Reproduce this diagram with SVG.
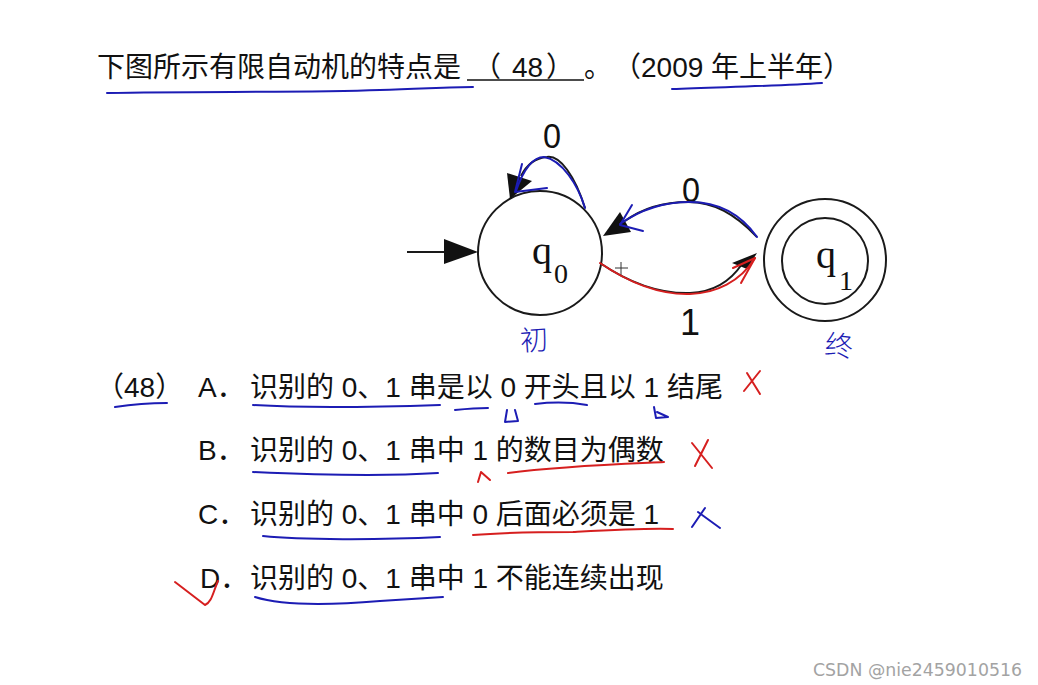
<svg xmlns="http://www.w3.org/2000/svg" width="1038" height="685" viewBox="0 0 1038 685">
<style>
.t{font-family:"Liberation Sans","Noto Sans CJK SC",sans-serif;font-size:28px;fill:#111}
.lbl{font-family:"Liberation Sans",sans-serif;font-size:36px;fill:#111;text-anchor:middle}
.q{font-family:"Liberation Serif",serif;fill:#111}
.st{fill:none;stroke:#1a1a1a;stroke-width:2}
.ah{fill:#111}
.pb{fill:none;stroke:#1c1cb4;stroke-width:2;stroke-linecap:round;stroke-linejoin:round}
.pr{fill:none;stroke:#d61f1f;stroke-width:2;stroke-linecap:round;stroke-linejoin:round}
.hw{font-family:"Noto Sans CJK SC",sans-serif;font-weight:300;fill:#1c1cb4}
</style>
<rect width="1038" height="685" fill="#fff"/>

<g id="title">
<text class="t" x="97" y="77">下图所示有限自动机的特点是</text>
<text class="t" y="77"><tspan x="473">（</tspan><tspan x="512">48</tspan><tspan x="546">）</tspan></text>
<line x1="467" y1="80" x2="584" y2="80" stroke="#111" stroke-width="1.5"/>
<text class="t" x="584" y="77">。</text>
<text class="t" x="613" y="77">（2009 年上半年）</text>
</g>

<g id="q0">
<circle class="st" cx="540" cy="253" r="62"/>
<text class="q" x="532" y="264" font-size="40">q</text>
<text class="q" x="554" y="283" font-size="28">0</text>
</g>
<g id="q1">
<circle class="st" cx="825" cy="260" r="61"/>
<circle class="st" cx="825" cy="261" r="43"/>
<text class="q" x="816" y="268" font-size="40">q</text>
<text class="q" x="839" y="290" font-size="28">1</text>
</g>

<g id="connectors">
<line class="st" x1="407" y1="252" x2="450" y2="252"/>
<polygon class="ah" points="478,252 444,239 444,264"/>
<path class="st" d="M585,208 C575,176 560,155 547,157 C535,158 526,166 521,176"/>
<polygon class="ah" points="510,199 507,173 532,181"/>
<path class="st" d="M757,237 C735,214 714,202 688,202 C660,202 640,210 625,221"/>
<polygon class="ah" points="603,236 620,212 631,232"/>
<path class="st" d="M600,263 C625,280 655,294 690,293 C713,292 730,282 742,264"/>
<polygon class="ah" points="757,253 732,263 747,269"/>
<text class="lbl" x="552" y="148" transform="translate(552 0) scale(0.9 1) translate(-552 0)">0</text>
<text class="lbl" x="691" y="202" transform="translate(691 0) scale(0.9 1) translate(-691 0)">0</text>
<text class="lbl" x="690" y="335">1</text>
</g>

<g id="cursor" stroke="#333" stroke-width="1">
<line x1="615" y1="268" x2="628" y2="268"/>
<line x1="621" y1="262" x2="621" y2="275"/>
</g>

<g id="options">
<text class="t" x="96" y="397">（48）</text>
<text class="t" x="198" y="397">A．</text>
<text class="t" x="250" y="397">识别的 0、1 串是以 0 开头且以 1 结尾</text>
<text class="t" x="198" y="460">B．</text>
<text class="t" x="250" y="460">识别的 0、1 串中 1 的数目为偶数</text>
<text class="t" x="198" y="524">C．</text>
<text class="t" x="250" y="524">识别的 0、1 串中 0 后面必须是 1</text>
<text class="t" x="200" y="588">D．</text>
<text class="t" x="250" y="588">识别的 0、1 串中 1 不能连续出现</text>
</g>

<g id="annotations">
<path class="pb" d="M585,208 C578,185 562,160 544,157 C533,157 524,168 516,191"/>
<path class="pb" d="M522,164 L515,192 L547,188"/>
<path class="pb" d="M757,237 C740,213 718,202 690,202 C662,202 640,210 620,224"/>
<path class="pb" d="M632,205 L620,225 L643,231"/>
<path class="pr" d="M600,263 C628,282 658,295 690,294 C716,293 740,282 755,258"/>
<path class="pr" d="M741,283 L755,258 L733,268"/>
<text class="hw" x="520" y="350" font-size="28" transform="rotate(-4 535 340)">初</text>
<text class="hw" x="825" y="356" font-size="28" transform="rotate(6 840 345)">终</text>

<path class="pb" d="M107,93 C200,91 300,93 380,90 C420,89 450,87 473,87"/>
<path class="pb" d="M672,89 C720,87 780,86 822,83"/>
<path class="pb" d="M115,407 C135,404 150,403 167,403"/>
<path class="pb" d="M253,405 C300,408 380,407 440,405"/>
<path class="pb" d="M455,410 C465,409 478,408 488,408"/>
<path class="pb" d="M535,404 C552,402 570,402 587,405"/>
<path class="pb" d="M507,410 L505,422 L518,421 L515,410"/>
<path class="pb" d="M654,407 L656,418 L668,417 L657,412"/>
<path class="pr" d="M747,373 L760,394 M760,371 L744,391"/>
<path class="pb" d="M253,472 C320,475 390,476 438,473"/>
<path class="pr" d="M478,482 L481,472 L490,480"/>
<path class="pr" d="M508,473 C560,466 620,464 664,462"/>
<path class="pr" d="M692,443 L712,468 M708,440 L695,466"/>
<path class="pb" d="M263,536 C300,540 380,540 440,537"/>
<path class="pr" d="M473,535 C510,532 540,532 573,532 C610,530 645,528 673,529"/>
<path class="pb" d="M705,508 L692,527 M698,512 L720,528"/>
<path class="pb" d="M255,597 C280,605 320,606 380,601 C410,599 430,598 443,597"/>
<path class="pr" d="M175,582 L205,605 C212,602 213,592 218,581" stroke-width="4"/>
</g>

<text x="813" y="676" font-family="DejaVu Sans,sans-serif" font-size="17" fill="#a3a3a3" textLength="209" lengthAdjust="spacingAndGlyphs">CSDN @nie2459010516</text>
</svg>
